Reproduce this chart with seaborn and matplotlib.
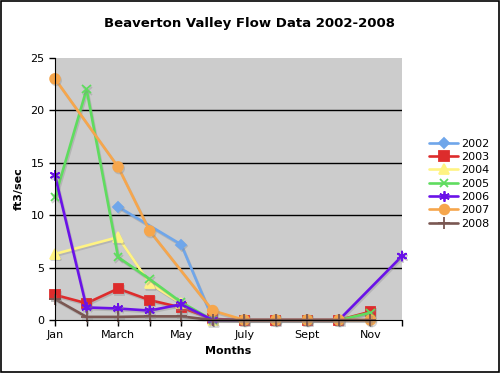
import numpy as np
import pandas as pd
import matplotlib
matplotlib.use("Agg")
import matplotlib.pyplot as plt
import matplotlib.patheffects as pe
import seaborn as sns

sns.set_style("white")
plt.rcParams['font.family'] = ['DejaVu Sans']
plt.rcParams['text.color'] = 'black'
plt.rcParams['axes.labelcolor'] = 'black'

# Months (positions 0..11) and the labels shown every other month
months = ['Jan', 'Feb', 'March', 'Apr', 'May', 'Jun', 'July', 'Aug', 'Sept', 'Oct', 'Nov', 'Dec']
tick_labels = ['Jan', '', 'March', '', 'May', '', 'July', '', 'Sept', '', 'Nov', '']

nan = np.nan
flow_2002 = [nan, nan, 10.8, nan, 7.2, 0.1, nan, nan, nan, nan, nan, nan]
flow_2003 = [2.4, 1.6, 3.0, 1.9, 1.2, 0.1, 0.0, 0.0, 0.0, 0.0, 0.8, nan]
flow_2004 = [6.3, nan, 7.9, 3.5, 1.6, 0.0, nan, nan, nan, nan, nan, nan]
flow_2005 = [11.7, 22.0, 6.0, 3.9, 1.7, 0.0, 0.0, 0.0, 0.0, 0.0, 0.7, nan]
flow_2006 = [13.8, 1.2, 1.1, 0.9, 1.5, 0.0, 0.0, 0.0, 0.0, 0.0, nan, 6.1]
flow_2007 = [23.0, nan, 14.6, 8.5, nan, 0.9, 0.0, 0.0, 0.0, 0.0, 0.0, nan]
flow_2008 = [2.0, 0.3, 0.3, 0.35, 0.35, 0.0, 0.0, 0.0, 0.0, 0.0, 0.0, nan]

years = ['2002', '2003', '2004', '2005', '2006', '2007', '2008']
series = [flow_2002, flow_2003, flow_2004, flow_2005, flow_2006, flow_2007, flow_2008]
colors = ['#6FA6EA', '#DD2C2C', '#FFF383', '#5FDC5F', '#6A12E8', '#F6A64C', '#7A5752']
markers = ['D', 's', '^', 'x', (6, 2, 0), 'o', '+']
msizes = [5, 6.5, 7, 6, 7.5, 7, 8]

fig = plt.figure(figsize=(5, 3.73), dpi=100)
ax = fig.add_axes([0.11, 0.142, 0.694, 0.703])
ax.set_facecolor('#CCCCCC')

shadow = [pe.SimpleLineShadow(offset=(0.8, -1.2), shadow_color='#888888', alpha=0.35), pe.Normal()]

for yr, vals, c, m, ms in zip(years, series, colors, markers, msizes):
    df = pd.DataFrame({'Month': np.arange(12), 'Flow': vals}).dropna()
    sns.lineplot(data=df, x='Month', y='Flow', ax=ax, color=c, marker=m,
                 markersize=ms, markeredgecolor=c, markeredgewidth=1.3,
                 linewidth=1.9, label=yr, path_effects=shadow, clip_on=False)

ax.set_xlim(0, 11)
ax.set_ylim(0, 25)
ax.set_xticks(np.arange(12))
ax.set_xticklabels(tick_labels)
ax.set_yticks(np.arange(0, 26, 5))
for y in [5, 10, 15, 20]:
    ax.axhline(y, color='black', linewidth=1, zorder=0.5)

for s in ['top', 'right']:
    ax.spines[s].set_visible(False)
ax.spines['left'].set_color('black')
ax.spines['bottom'].set_color('black')
ax.tick_params(axis='both', direction='out', length=4, width=1, colors='black',
               labelsize=8, bottom=True, left=True)

ax.set_xlabel('Months', fontsize=8, fontweight='bold', labelpad=4)
ax.set_ylabel('ft3/sec', fontsize=8, fontweight='bold', labelpad=5)
fig.suptitle('Beaverton Valley Flow Data 2002-2008', x=0.5, y=0.955,
             fontsize=9.5, fontweight='bold', color='black')

leg = ax.legend(loc='center left', bbox_to_anchor=(1.05, 0.52), frameon=False,
                fontsize=8, handlelength=2.6, labelspacing=0.3, handletextpad=0.3)
for h in leg.legend_handles:
    h.set_path_effects([])

# outer frame like the original picture
fig.patches.append(plt.Rectangle((0.002, 0.003), 0.996, 0.994, transform=fig.transFigure,
                                 fill=False, edgecolor='black', linewidth=1.2))

plt.savefig('out.png', dpi=100)
